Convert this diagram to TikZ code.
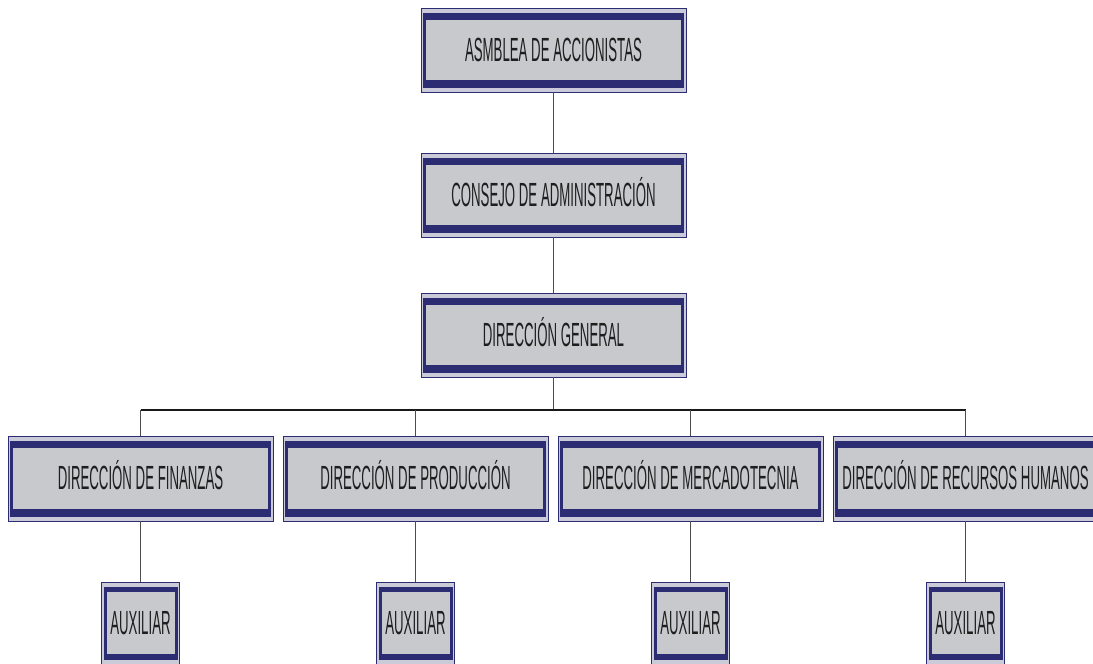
\documentclass[tikz,border=0pt]{standalone}
\usepackage{fontspec}
\newfontfamily\condfont[FakeStretch=0.395]{Liberation Sans}
\definecolor{navyc}{HTML}{2B2C72}
\definecolor{outerc}{HTML}{CACAD8}
\definecolor{innerc}{HTML}{C8C9CC}
\definecolor{textc}{HTML}{1E1E1E}
\tikzset{
  outerbox/.style={draw=navyc, line width=0.8pt, fill=outerc, inner sep=0pt, outer sep=0pt},
  boxtext/.style={font=\condfont\fontsize{33.5}{34}\selectfont, text=textc, inner sep=0pt, text height=24pt, text depth=0pt},
  link/.style={draw=black!70, line width=1pt},
  bus/.style={draw=black!90, line width=1.8pt}
}
\newcommand\orgbox[6]{% name, position, width, height, vertical inset, text
  \node[outerbox, minimum width=#3, minimum height=#4] (#1) at #2 {};
  \fill[navyc] ([shift={(2pt,-5pt)}]#1.north west) rectangle ([shift={(-2pt,4pt)}]#1.south east);
  \fill[innerc] ([shift={(5pt,-#5)}]#1.north west) rectangle ([shift={(-5pt,#5)}]#1.south east);
  \node[boxtext] (#1t) at ([yshift=1pt]#1.center) {#6};
}
\begin{document}
\begin{tikzpicture}[x=1pt, y=-1pt]
\useasboundingbox (0,0) rectangle (1093,664);
\begin{scope}
\clip (0,0) rectangle (1093,664);
\coordinate (busc) at (553.5,410);
\orgbox{A}{(553.5,50)}{265pt}{84pt}{12pt}{ASMBLEA DE ACCIONISTAS}
\orgbox{B}{(553.5,195)}{265pt}{84pt}{12pt}{CONSEJO DE ADMINISTRACIÓN}
\orgbox{C}{(553.5,335)}{265pt}{84pt}{12pt}{DIRECCIÓN GENERAL}
\orgbox{F}{(140.5,478.5)}{265pt}{85pt}{12pt}{DIRECCIÓN DE FINANZAS}
\orgbox{P}{(415.5,478.5)}{265pt}{85pt}{12pt}{DIRECCIÓN DE PRODUCCIÓN}
\orgbox{M}{(690.5,478.5)}{265pt}{85pt}{12pt}{DIRECCIÓN DE MERCADOTECNIA}
\orgbox{R}{(965.5,478.5)}{265pt}{85pt}{12pt}{DIRECCIÓN DE RECURSOS HUMANOS}
\orgbox{F1}{(140.5,623)}{78pt}{82pt}{10pt}{AUXILIAR}
\orgbox{P1}{(415.5,623)}{78pt}{82pt}{10pt}{AUXILIAR}
\orgbox{M1}{(690.5,623)}{78pt}{82pt}{10pt}{AUXILIAR}
\orgbox{R1}{(965.5,623)}{78pt}{82pt}{10pt}{AUXILIAR}
\draw[link] (A.south) -- (B.north);
\draw[link] (B.south) -- (C.north);
\draw[link] (C.south) -- (busc);
\draw[bus] (F.north |- busc) -- (R.north |- busc);
\draw[link] (F.north |- busc) -- (F.north);
\draw[link] (P.north |- busc) -- (P.north);
\draw[link] (M.north |- busc) -- (M.north);
\draw[link] (R.north |- busc) -- (R.north);
\draw[link] (F.south) -- (F1.north);
\draw[link] (P.south) -- (P1.north);
\draw[link] (M.south) -- (M1.north);
\draw[link] (R.south) -- (R1.north);
\end{scope}
\end{tikzpicture}
\end{document}
